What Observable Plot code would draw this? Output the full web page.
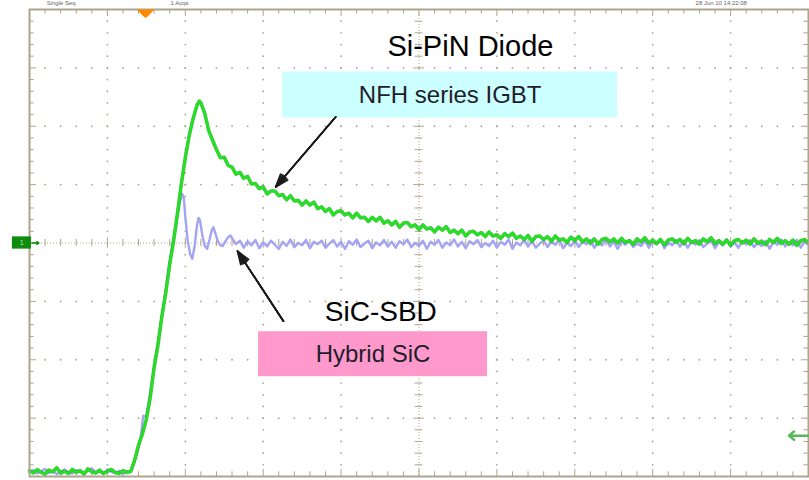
<!DOCTYPE html>
<html>
<head>
<meta charset="utf-8">
<script src="https://cdn.jsdelivr.net/npm/d3@7"></script>
<script src="https://cdn.jsdelivr.net/npm/@observablehq/plot@0.6"></script>
<style>
  html, body { margin: 0; padding: 0; background: #fff; }
  #chart svg { display: block; }
</style>
</head>
<body>
<div id="chart"></div>
<script>
// Reverse-recovery current at turn-on, oscilloscope capture.
// Time in horizontal divisions (0–10), current in vertical divisions (−4…4, 0 = centre line).

// Si-PiN diode paired with the NFH series IGBT: [time, level]
const siPinTrace = [
  [0.00,-3.90],[0.05,-3.94],[0.10,-3.88],[0.15,-3.93],[0.20,-3.96],[0.25,-3.89],[0.30,-3.92],[0.35,-3.85],
  [0.40,-3.94],[0.45,-3.91],[0.50,-3.95],[0.55,-3.88],[0.60,-3.93],[0.65,-3.90],[0.70,-3.96],[0.75,-3.87],
  [0.80,-3.92],[0.85,-3.94],[0.90,-3.89],[0.95,-3.95],[1.00,-3.91],[1.05,-3.88],[1.10,-3.93],[1.15,-3.95],
  [1.20,-3.90],[1.25,-3.93],
  [1.30,-3.91],[1.35,-3.72],[1.40,-3.46],[1.45,-3.27],[1.50,-3.02],[1.55,-2.64],[1.60,-2.13],[1.65,-1.74],
  [1.70,-1.25],[1.75,-0.85],[1.80,-0.36],[1.85,0.04],[1.90,0.51],[1.95,1.02],[2.00,1.46],[2.05,1.84],
  [2.10,2.13],[2.15,2.36],[2.18,2.43],[2.20,2.40],[2.25,2.22],[2.30,1.93],[2.35,1.76],
  [2.40,1.60],[2.45,1.46],[2.50,1.47],[2.55,1.33],[2.60,1.30],[2.65,1.18],[2.70,1.21],[2.75,1.11],
  [2.80,1.14],[2.85,1.01],[2.90,1.02],[2.95,0.93],[3.00,0.96],[3.05,0.84],[3.10,0.89],[3.15,0.89],
  [3.20,0.81],[3.25,0.83],[3.30,0.74],[3.35,0.81],[3.40,0.72],[3.45,0.73],[3.50,0.65],[3.55,0.72],
  [3.60,0.65],[3.65,0.70],[3.70,0.59],[3.75,0.62],[3.80,0.54],[3.85,0.59],[3.90,0.48],[3.95,0.54],
  [4.00,0.55],[4.05,0.48],[4.10,0.51],[4.15,0.43],[4.20,0.51],[4.25,0.43],[4.30,0.44],[4.35,0.37],
  [4.40,0.44],[4.45,0.38],[4.50,0.44],[4.55,0.34],[4.60,0.38],[4.65,0.31],[4.70,0.37],[4.75,0.27],
  [4.80,0.34],[4.85,0.35],[4.90,0.28],[4.95,0.31],[5.00,0.23],[5.05,0.31],[5.10,0.24],[5.15,0.26],
  [5.20,0.19],[5.25,0.27],[5.30,0.22],[5.35,0.28],[5.40,0.18],[5.45,0.22],[5.50,0.16],[5.55,0.22],
  [5.60,0.12],[5.65,0.19],[5.70,0.20],[5.75,0.14],[5.80,0.18],[5.85,0.11],[5.90,0.19],[5.95,0.12],
  [6.00,0.14],[6.05,0.08],[6.10,0.16],[6.15,0.11],[6.20,0.17],[6.25,0.08],[6.30,0.12],[6.35,0.06],
  [6.40,0.13],[6.45,0.03],[6.50,0.11],[6.55,0.12],[6.60,0.06],[6.65,0.11],[6.70,0.03],[6.75,0.12],
  [6.80,0.05],[6.85,0.07],[6.90,0.01],[6.95,0.10],[7.00,0.04],[7.05,0.11],[7.10,0.02],[7.15,0.07],
  [7.20,0.00],[7.25,0.07],[7.30,-0.02],[7.35,0.06],[7.40,0.08],[7.45,0.02],[7.50,0.07],[7.55,0.00],
  [7.60,0.08],[7.65,0.01],[7.70,0.04],[7.75,-0.02],[7.80,0.07],[7.85,0.02],[7.90,0.09],[7.95,0.00],
  [8.00,0.05],[8.05,-0.01],[8.10,0.06],[8.15,-0.03],[8.20,0.05],[8.25,0.07],[8.30,0.01],[8.35,0.06],
  [8.40,-0.01],[8.45,0.08],[8.50,0.01],[8.55,0.04],[8.60,-0.02],[8.65,0.07],[8.70,0.02],[8.75,0.09],
  [8.80,-0.01],[8.85,0.04],[8.90,-0.02],[8.95,0.05],[9.00,-0.04],[9.05,0.04],[9.10,0.06],[9.15,0.00],
  [9.20,0.05],[9.25,-0.02],[9.30,0.07],[9.35,0.00],[9.40,0.03],[9.45,-0.03],[9.50,0.06],[9.55,0.01],
  [9.60,0.08],[9.65,-0.01],[9.70,0.04],[9.75,-0.02],[9.80,0.05],[9.85,-0.04],[9.90,0.04],[9.95,0.06],
  [10.00,0.00]
];

// SiC-SBD paired with the Hybrid SiC module: [time, level]
const sicSbdTrace = [
  [0.00,-3.93],[0.05,-3.89],[0.10,-3.95],[0.15,-3.91],[0.20,-3.87],[0.25,-3.94],[0.30,-3.90],[0.35,-3.96],
  [0.40,-3.92],[0.45,-3.88],[0.50,-3.93],[0.55,-3.95],[0.60,-3.89],[0.65,-3.92],[0.70,-3.94],[0.75,-3.90],
  [0.80,-3.86],[0.85,-3.93],[0.90,-3.91],[0.95,-3.95],[1.00,-3.88],[1.05,-3.92],[1.10,-3.94],[1.15,-3.90],
  [1.20,-3.96],[1.25,-3.91],
  [1.30,-3.92],[1.35,-3.74],[1.40,-3.50],[1.43,-3.30],[1.46,-2.96],[1.50,-2.98],[1.55,-2.58],[1.60,-2.12],
  [1.65,-1.70],[1.70,-1.24],[1.75,-0.80],[1.80,-0.33],[1.85,0.08],[1.90,0.48],[1.93,0.70],[1.96,0.84],
  [1.98,0.78],[2.00,0.45],[2.03,0.05],[2.06,-0.18],[2.09,-0.27],[2.12,-0.05],[2.15,0.30],[2.17,0.43],
  [2.19,0.38],[2.22,0.12],[2.25,-0.05],[2.28,-0.10],[2.31,0.05],[2.34,0.22],[2.36,0.27],[2.39,0.15],
  [2.42,0.02],[2.45,-0.04],[2.48,-0.05],[2.51,0.02],[2.55,0.10],[2.58,0.13],[2.61,0.06],[2.65,-0.02],
  [2.70,0.04],
  [2.75,-0.08],[2.80,0.03],[2.85,-0.04],[2.90,0.05],[2.95,-0.09],[3.00,0.01],[3.05,-0.06],[3.10,0.04],
  [3.15,-0.03],[3.20,-0.10],[3.25,0.02],[3.30,-0.05],[3.35,0.06],[3.40,-0.07],[3.45,0.00],[3.50,-0.04],
  [3.55,0.05],[3.60,-0.09],[3.65,0.02],[3.70,-0.02],[3.75,0.04],[3.80,-0.08],[3.85,-0.01],[3.90,0.05],
  [3.95,-0.06],[4.00,0.02],[4.05,-0.10],[4.10,0.03],[4.15,-0.03],[4.20,0.06],[4.25,-0.07],[4.30,-0.01],
  [4.35,0.04],[4.40,-0.09],[4.45,0.01],[4.50,-0.04],[4.55,0.05],[4.60,-0.06],[4.65,0.02],[4.70,-0.08],
  [4.75,0.03],[4.80,-0.02],[4.85,0.06],[4.90,-0.07],[4.95,0.00],[5.00,-0.05],[5.05,0.04],[5.10,-0.10],
  [5.15,0.02],[5.20,-0.03],[5.25,0.05],[5.30,-0.08],[5.35,0.01],[5.40,-0.04],[5.45,0.06],[5.50,-0.06],
  [5.55,0.02],[5.60,-0.09],[5.65,0.03],[5.70,-0.02],[5.75,0.05],[5.80,-0.07],[5.85,0.00],[5.90,-0.05],
  [5.95,0.04],[6.00,-0.08],[6.05,0.02],[6.10,-0.03],[6.15,0.06],[6.20,-0.10],[6.25,0.01],[6.30,-0.04],
  [6.35,0.05],[6.40,-0.06],[6.45,0.03],[6.50,-0.08],[6.55,-0.01],[6.60,0.04],[6.65,-0.07],[6.70,0.02],
  [6.75,-0.03],[6.80,0.06],[6.85,-0.09],[6.90,0.00],[6.95,-0.05],[7.00,0.04],[7.05,-0.07],[7.10,0.02],
  [7.15,-0.02],[7.20,0.05],[7.25,-0.08],[7.30,0.01],[7.35,-0.04],[7.40,0.06],[7.45,-0.06],[7.50,0.02],
  [7.55,-0.10],[7.60,0.03],[7.65,-0.03],[7.70,0.05],[7.75,-0.07],[7.80,0.00],[7.85,-0.05],[7.90,0.04],
  [7.95,-0.08],[8.00,0.02],[8.05,-0.02],[8.10,0.06],[8.15,-0.09],[8.20,0.01],[8.25,-0.04],[8.30,0.05],
  [8.35,-0.06],[8.40,0.02],[8.45,-0.08],[8.50,0.03],[8.55,-0.03],[8.60,0.05],[8.65,-0.07],[8.70,-0.01],
  [8.75,0.04],[8.80,-0.09],[8.85,0.02],[8.90,-0.04],[8.95,0.06],[9.00,-0.06],[9.05,0.01],[9.10,-0.08],
  [9.15,0.03],[9.20,-0.02],[9.25,0.05],[9.30,-0.07],[9.35,0.00],[9.40,-0.05],[9.45,0.04],[9.50,-0.10],
  [9.55,0.02],[9.60,-0.03],[9.65,0.06],[9.70,-0.06],[9.75,0.01],[9.80,-0.04],[9.85,0.05],[9.90,-0.08],
  [9.95,0.02],[10.00,-0.03]
];

// Callout texts
const traceTitles = ["Si-PiN Diode", "SiC-SBD"];
const moduleNames = ["NFH series IGBT", "Hybrid SiC"];
// Instrument readout strings along the top edge
const readouts = ["Single Seq", "1 Acqs", "28 Jun 10 14:22:08"];

// ---- screen graticule (10 x 8 divisions, 5 subdivisions each) ----
const X_DIV = 10, Y_DIV = 4;
const xsSub = d3.range(0, X_DIV * 5 + 1).map(i => i / 5);
const ysSub = d3.range(-Y_DIV * 5, Y_DIV * 5 + 1).map(i => i / 5);
const xsMajor = d3.range(1, X_DIV).filter(v => v !== 5);
const ysMajor = d3.range(-Y_DIV + 1, Y_DIV).filter(v => v !== 0);
const gridDots = [
  ...xsMajor.flatMap(x => ysSub.slice(1, -1).map(y => ({x, y}))),
  ...ysMajor.flatMap(y => xsSub.slice(1, -1).map(x => ({x, y})))
];
const isMajor = v => Math.abs(v - Math.round(v)) < 1e-9;

const GRID = "#aea691";
const FRAME = "#aca48c";

const greenTrace = siPinTrace.map(([t, v]) => ({t, v}));
const blueTrace = sicSbdTrace.map(([t, v]) => ({t, v}));

// downward trigger-position marker
const triangleDown = {
  draw(ctx) {
    ctx.moveTo(-9, -4);
    ctx.lineTo(9, -4);
    ctx.lineTo(1, 4);
    ctx.lineTo(-1, 4);
    ctx.closePath();
  }
};

// callout arrows drawn as wedges: several heads of decreasing spread
const headSpread = [40, 28, 16, 6];
const callouts = [
  {x1: 3.93, y1: 2.16, x2: 3.16, y2: 0.96},
  {x1: 3.26, y1: -1.34, x2: 2.67, y2: -0.14}
];

const font = "'Liberation Sans', Arial, Helvetica, sans-serif";

const chart = Plot.plot({
  width: 809,
  height: 480,
  marginLeft: 29,
  marginRight: 1,
  marginTop: 9,
  marginBottom: 4,
  x: {domain: [0, X_DIV], axis: null},
  y: {domain: [-Y_DIV, Y_DIV], axis: null},
  style: {background: "#fff", fontFamily: font, overflow: "visible"},
  marks: [
    // graticule dots
    Plot.dot(gridDots, {x: "x", y: "y", r: 0.9, fill: GRID, stroke: null}),
    // centre cross lines with subdivision ticks
    Plot.ruleY([0], {stroke: GRID, strokeDasharray: "1,2"}),
    Plot.ruleX([5], {stroke: GRID, strokeDasharray: "1,2"}),
    Plot.ruleX(xsSub, {y1: d => isMajor(d) ? -0.09 : -0.06, y2: d => isMajor(d) ? 0.09 : 0.06, stroke: GRID}),
    Plot.ruleY(ysSub, {x1: d => isMajor(d) ? 4.93 : 4.95, x2: d => isMajor(d) ? 5.07 : 5.05, stroke: GRID}),
    // border ticks
    Plot.ruleX(xsSub, {y1: 4, y2: d => isMajor(d) ? 3.88 : 3.92, stroke: FRAME}),
    Plot.ruleX(xsSub, {y1: -4, y2: d => isMajor(d) ? -3.88 : -3.92, stroke: FRAME}),
    Plot.ruleY(ysSub, {x1: 0, x2: d => isMajor(d) ? 0.09 : 0.06, stroke: FRAME}),
    Plot.ruleY(ysSub, {x1: 10, x2: d => isMajor(d) ? 9.91 : 9.94, stroke: FRAME}),

    // SiC-SBD current
    Plot.line(blueTrace, {x: "t", y: "v", stroke: "#a4a4f4", strokeWidth: 2.4, strokeLinejoin: "round"}),
    // Si-PiN current
    Plot.line(greenTrace, {x: "t", y: "v", stroke: "#13a813", strokeWidth: 3.6, strokeOpacity: 0.75, strokeLinejoin: "round"}),
    Plot.line(greenTrace, {x: "t", y: "v", stroke: "#22e222", strokeWidth: 2.4, strokeLinejoin: "round"}),

    // callout boxes
    Plot.rect([moduleNames[0]], {x1: 3.25, x2: 7.55, y1: 2.14, y2: 2.93, fill: "#ccffff"}),
    Plot.rect([moduleNames[1]], {x1: 2.94, x2: 5.88, y1: -2.29, y2: -1.52, fill: "#ff99cc"}),
    Plot.text([moduleNames[0]], {x: 5.40, y: 2.53, text: d => d, fontSize: 24, fill: "#1e1e2a"}),
    Plot.text([moduleNames[1]], {x: 4.41, y: -1.91, text: d => d, fontSize: 24, fill: "#1e1e2a"}),
    Plot.text([traceTitles[0]], {x: 5.66, y: 3.36, text: d => d, fontSize: 29, fill: "#000"}),
    Plot.text([traceTitles[1]], {x: 4.51, y: -1.18, text: d => d, fontSize: 28, fill: "#000"}),
    // callout arrows
    ...headSpread.map(a => Plot.arrow(callouts, {
      x1: "x1", y1: "y1", x2: "x2", y2: "y2",
      stroke: "#1a1a1a", strokeWidth: 1.6, headAngle: a, headLength: 13
    })),

    // frame
    Plot.frame({stroke: FRAME, strokeWidth: 2}),

    // trigger position marker
    Plot.dot([1.49], {x: d => d, y: 4, dy: 4, symbol: triangleDown, fill: "#ff8a00", stroke: null}),
    // channel ground marker
    Plot.rect([0], {x1: -0.22, x2: 0.025, y1: -0.105, y2: 0.105, fill: "#0d8c0d"}),
    Plot.text(["1"], {x: -0.1, y: 0, text: d => d, fontSize: 7, fill: "#bfe8bf"}),
    Plot.arrow([0], {x1: 0.03, x2: 0.12, y1: 0, y2: 0, stroke: "#0d8c0d", strokeWidth: 1.5, headLength: 4, headAngle: 70}),
    // off-screen level indicator at the right edge
    Plot.arrow([0], {x1: 10.0, x2: 9.75, y1: -3.30, y2: -3.30, stroke: "#5cb85c", strokeWidth: 2.5, headLength: 6, headAngle: 80}),

    // top readouts, in the strip above the graticule
    Plot.text([readouts[0]], {x: 0.22, y: 4, dy: -6, text: d => d, fontSize: 6, fill: "#666", textAnchor: "start"}),
    Plot.text([readouts[1]], {x: 1.81, y: 4, dy: -6, text: d => d, fontSize: 6, fill: "#666", textAnchor: "start"}),
    Plot.text([readouts[2]], {x: 8.55, y: 4, dy: -6, text: d => d, fontSize: 6, fill: "#666", textAnchor: "start"})
  ]
});

document.getElementById("chart").append(chart);
</script>
</body>
</html>
